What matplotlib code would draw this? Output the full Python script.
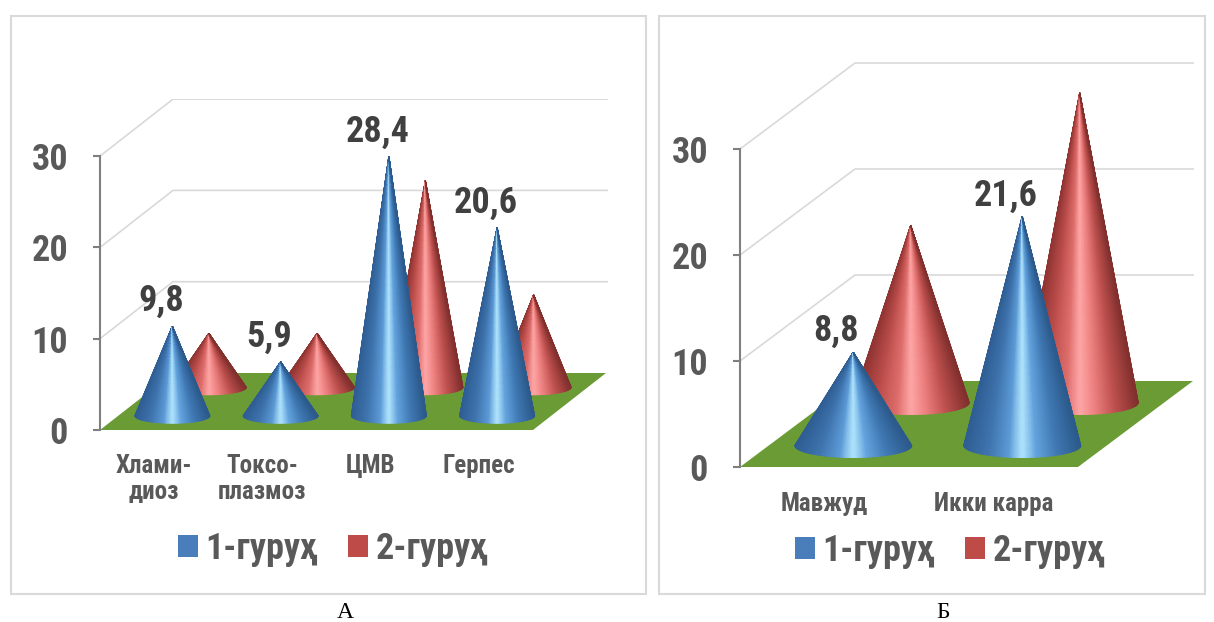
import numpy as np
import matplotlib
matplotlib.use('Agg')
import matplotlib.pyplot as plt
from matplotlib.colors import LinearSegmentedColormap
from matplotlib.patches import Patch, Rectangle

plt.rcParams['font.family'] = ['Roboto Condensed', 'Liberation Sans', 'DejaVu Sans']

# данные
categories_a = ['Хлами-\nдиоз', 'Токсо-\nплазмоз', 'ЦМВ', 'Герпес']
group1_a = [9.8, 5.9, 28.4, 20.6]
group2_a = [5.9, 5.9, 22.6, 10.1]

categories_b = ['Мавжуд', 'Икки карра']
group1_b = [8.8, 21.6]
group2_b = [16.7, 29.2]

y_ticks = [0, 10, 20, 30]
series_names = ['1-гуруҳ', '2-гуруҳ']

W, H = 1214, 622
blue_cmap = LinearSegmentedColormap.from_list('blue', [
    (0.0, '#2f5e94'), (0.2, '#3f74ae'), (0.38, '#5c9ad6'), (0.5, '#b4e8ff'),
    (0.62, '#64a4de'), (0.8, '#4079b4'), (1.0, '#2c5a8c')])
red_cmap = LinearSegmentedColormap.from_list('red', [
    (0.0, '#903432'), (0.2, '#bc4e4c'), (0.38, '#de6e6c'), (0.5, '#ffa8a8'),
    (0.62, '#f08484'), (0.8, '#c05250'), (1.0, '#82302e')])


def cone(ax, x, y, hw, b, value, cmap, z):
    # поверхность конуса сеткой
    a = np.linspace(-np.pi / 2, np.pi / 2, 60)
    t = np.sin(a)
    s = np.linspace(0, 1, 30)
    T, S = np.meshgrid(t, s)
    X = x + T * hw * (1 - S)
    Y = y - (1 - S) * b * np.sqrt(1 - T ** 2) + S * value
    ax.pcolormesh(X, Y, T, cmap=cmap, shading='gouraud', vmin=-1, vmax=1, zorder=z)


def panel(x0, y0, xend, ytop, xs, ys, ddx, ddy, hw, b, cats, g1, g2, lab_off, leg_xy, cat_pad):
    ax = fig.add_axes([x0 / W, (H - y0) / H, (xend - x0) / W, (y0 - ytop) / H])
    ax.set_xlim(0, (xend - x0) / xs)
    ax.set_ylim(0, (y0 - ytop) / ys)
    ax.patch.set_alpha(0)
    dx, dy = ddx / xs, ddy / ys
    n = len(cats)

    for v in y_ticks[1:]:
        ax.plot([0, dx, (xend - x0) / xs], [v, v + dy, v + dy], color='#d9d9d9', lw=1.2, zorder=1)
    ax.fill([0, n, n + dx, dx], [0, 0, dy, dy], color='#6a9b35', lw=0, zorder=2)

    for i in range(n):
        xc = i + 0.5
        cone(ax, xc + 0.75 * dx, 0.75 * dy, hw / xs, b / ys, g2[i], red_cmap, 3 + i)
    for i in range(n):
        xc = i + 0.5
        cone(ax, xc + 0.25 * dx, 0.25 * dy, hw / xs, b / ys, g1[i], blue_cmap, 10 + i)
        ax.annotate(str(g1[i]).replace('.', ','), (xc + 0.25 * dx, g1[i] + 0.25 * dy),
                    xytext=lab_off, textcoords='offset pixels', ha='center', va='center',
                    fontsize=26, fontweight='bold', color='#404040', zorder=20)

    for sp in ['top', 'right', 'bottom']:
        ax.spines[sp].set_visible(False)
    ax.spines['left'].set_bounds(0, y_ticks[-1])
    ax.spines['left'].set_color('#7f7f7f')
    ax.spines['left'].set_linewidth(1.5)
    ax.set_yticks(y_ticks)
    ax.tick_params(axis='y', length=5, width=1.5, color='#7f7f7f', pad=18, labelsize=26, labelcolor='#595959')
    for l in ax.get_yticklabels():
        l.set_fontweight('bold')
    ax.set_xticks([i + 0.5 for i in range(n)])
    ax.set_xticklabels(cats, fontsize=18, fontweight='bold', color='#595959', linespacing=1.15)
    ax.tick_params(axis='x', length=0, pad=cat_pad)

    handles = [Patch(color='#4a7ebb', lw=0), Patch(color='#be4b48', lw=0)]
    ax.legend(handles, series_names, loc='center', bbox_to_anchor=(leg_xy[0] / W, 1 - leg_xy[1] / H),
              bbox_transform=fig.transFigure, ncol=2, frameon=False,
              labelcolor='#595959', prop={'size': 26, 'weight': 'bold'},
              handlelength=0.55, handleheight=0.55, handletextpad=0.2, columnspacing=0.85)
    return ax


fig = plt.figure(figsize=(W / 100, H / 100), dpi=100)

for x1, x2 in [(11, 646), (659, 1205)]:
    fig.add_artist(Rectangle((x1 / W, (H - 594) / H), (x2 - x1) / W, (594 - 16) / H,
                             transform=fig.transFigure, fill=False, ec='#d9d9d9', lw=1.5))

panel(100, 430, 608, 99, 108.25, 9.13, 73, 57, 37.5, 7.5,
      categories_a, group1_a, group2_a, (-11, 25), (333, 549), 17)
panel(740, 467, 1194, 61, 169, 10.6, 115, 86, 58.5, 12,
      categories_b, group1_b, group2_b, (-17, 21), (950, 551), 18)

fig.text(345 / W, 1 - 612 / H, 'А', family='Liberation Serif', fontsize=17, ha='center', va='center', color='black')
fig.text(943 / W, 1 - 612 / H, 'Б', family='Liberation Serif', fontsize=17, ha='center', va='center', color='black')

fig.savefig('out.png', dpi=100)
